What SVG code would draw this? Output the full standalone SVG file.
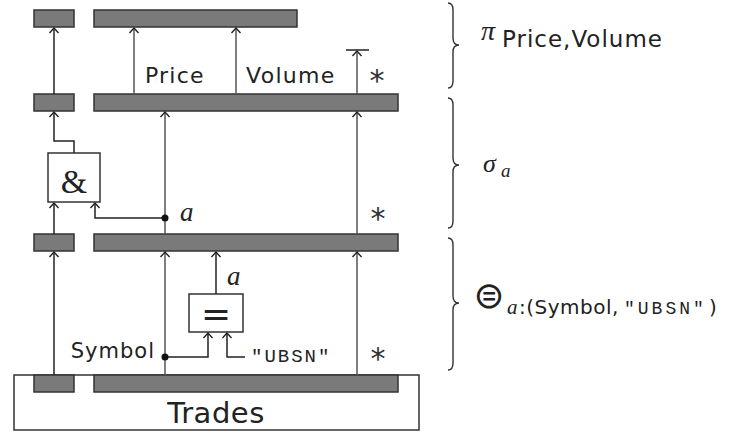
<svg xmlns="http://www.w3.org/2000/svg" width="732" height="432" viewBox="0 0 732 432">
<style>
.bar{fill:#7a7a7a;stroke:#333;stroke-width:1.5}
.box{fill:#fff;stroke:#333;stroke-width:1.5}
.ln{fill:none;stroke:#222;stroke-width:1.5}
.lg{fill:none;stroke:#555;stroke-width:1.5}
.sans{font-family:"DejaVu Sans","Liberation Sans",sans-serif;fill:#222}
.ser{font-family:"Liberation Serif","DejaVu Serif",serif;fill:#222}
.it{font-family:"Liberation Serif","DejaVu Serif",serif;font-style:italic;fill:#222}
.mono{font-family:"Liberation Mono","DejaVu Sans Mono",monospace;fill:#222}
.star{font-family:"DejaVu Sans",sans-serif;fill:#333;font-size:30px;text-anchor:middle}
.brace{fill:none;stroke:#333;stroke-width:1.4}
</style>
<defs>
<marker id="ah" markerUnits="userSpaceOnUse" markerWidth="12" markerHeight="12" refX="0" refY="0" viewBox="-6 -6 12 12" orient="auto" overflow="visible">
<path d="M-5,-4.5 L0,0 L-5,4.5" fill="none" stroke="#222" stroke-width="1.4"/>
</marker>
</defs>
<g id="trades">
<rect class="box" x="14" y="375" width="405" height="55"/>
<text class="sans" x="216" y="423" font-size="29" text-anchor="middle" letter-spacing="0.5">Trades</text>
</g>
<g id="row4">
<rect class="bar" x="34" y="375" width="40" height="17"/>
<rect class="bar" x="94" y="375" width="304" height="17"/>
</g>
<g id="row3">
<rect class="bar" x="34" y="234" width="40" height="17"/>
<rect class="bar" x="94" y="234" width="304" height="17"/>
</g>
<g id="row2">
<rect class="bar" x="34" y="94" width="40" height="17"/>
<rect class="bar" x="94" y="94" width="304" height="17"/>
</g>
<g id="row1">
<rect class="bar" x="34" y="10" width="40" height="17"/>
<rect class="bar" x="94" y="10" width="203" height="17"/>
</g>
<g id="and-node">
<rect class="box" x="48" y="153" width="52" height="49"/>
<text class="ser" x="74" y="193" font-size="34" text-anchor="middle">&amp;</text>
</g>
<g id="eq-node">
<rect class="box" x="189" y="294" width="54" height="38"/>
<text class="sans" x="216" y="326" font-size="36" text-anchor="middle">=</text>
</g>
<g id="connectors">
<path class="ln" d="M54,94 V28" marker-end="url(#ah)"/>
<path class="lg" d="M134,94 V28" marker-end="url(#ah)"/>
<path class="lg" d="M236,94 V28" marker-end="url(#ah)"/>
<path class="lg" d="M357,94 V51" marker-end="url(#ah)"/>
<path class="ln" d="M346,50 H369"/>
<path class="ln" d="M74,153 V141 H54 V112" marker-end="url(#ah)"/>
<path class="ln" d="M54,234 V203" marker-end="url(#ah)"/>
<path class="ln" d="M165,218 H95 V203" marker-end="url(#ah)"/>
<path class="lg" d="M165,234 V112" marker-end="url(#ah)"/>
<path class="lg" d="M357,234 V112" marker-end="url(#ah)"/>
<circle cx="165" cy="218" r="3.5" fill="#111"/>
<path class="ln" d="M54,375 V252" marker-end="url(#ah)"/>
<path class="lg" d="M165,375 V252" marker-end="url(#ah)"/>
<path class="ln" d="M165,357 H208 V333" marker-end="url(#ah)"/>
<path class="ln" d="M245,357 H227 V333" marker-end="url(#ah)"/>
<path class="ln" d="M216,294 V252" marker-end="url(#ah)"/>
<path class="lg" d="M357,375 V252" marker-end="url(#ah)"/>
<circle cx="165" cy="357" r="3.5" fill="#111"/>
</g>
<g id="labels">
<text class="sans" x="145" y="83" font-size="22" letter-spacing="1.2">Price</text>
<text class="sans" x="246" y="83" font-size="22" letter-spacing="1.3">Volume</text>
<text class="star" x="377" y="91">*</text>
<text class="it" x="180" y="221" font-size="27">a</text>
<text class="star" x="378" y="229">*</text>
<text class="it" x="227" y="285" font-size="27">a</text>
<text class="sans" x="155" y="358" font-size="21" text-anchor="end" letter-spacing="1">Symbol</text>
<text class="mono" x="251" y="362" font-size="19" letter-spacing="2">"UBSN"</text>
<text class="star" x="378" y="369">*</text>
</g>
<g id="braces">
<path class="brace" d="M448,3 Q453,3 453,10 V38 Q453,45 459,45 Q453,45 453,52 V81 Q453,88 448,88"/>
<path class="brace" d="M448,98 Q453,98 453,105 V158 Q453,165 459,165 Q453,165 453,172 V221 Q453,228 448,228"/>
<path class="brace" d="M448,238 Q453,238 453,245 V296 Q453,303 459,303 Q453,303 453,310 V363 Q453,370 448,370"/>
</g>
<g id="ops">
<text x="481" y="40" font-size="28" class="it">π</text>
<text class="sans" x="502" y="47" font-size="23" letter-spacing="1">Price,Volume</text>
<text class="it" x="483" y="172" font-size="26">σ</text>
<text class="it" x="501" y="177" font-size="19">a</text>
<text x="489" y="308" font-size="37" text-anchor="middle" font-family="'DejaVu Sans',sans-serif" fill="#222">⊜</text>
<text class="it" x="507" y="314" font-size="21">a</text>
<text class="sans" x="519" y="314" font-size="20" letter-spacing="0.5">:(Symbol,</text>
<text class="mono" x="624" y="314" font-size="18" letter-spacing="3">"UBSN"</text>
<text class="sans" x="709" y="314" font-size="20">)</text>
</g>
</svg>
